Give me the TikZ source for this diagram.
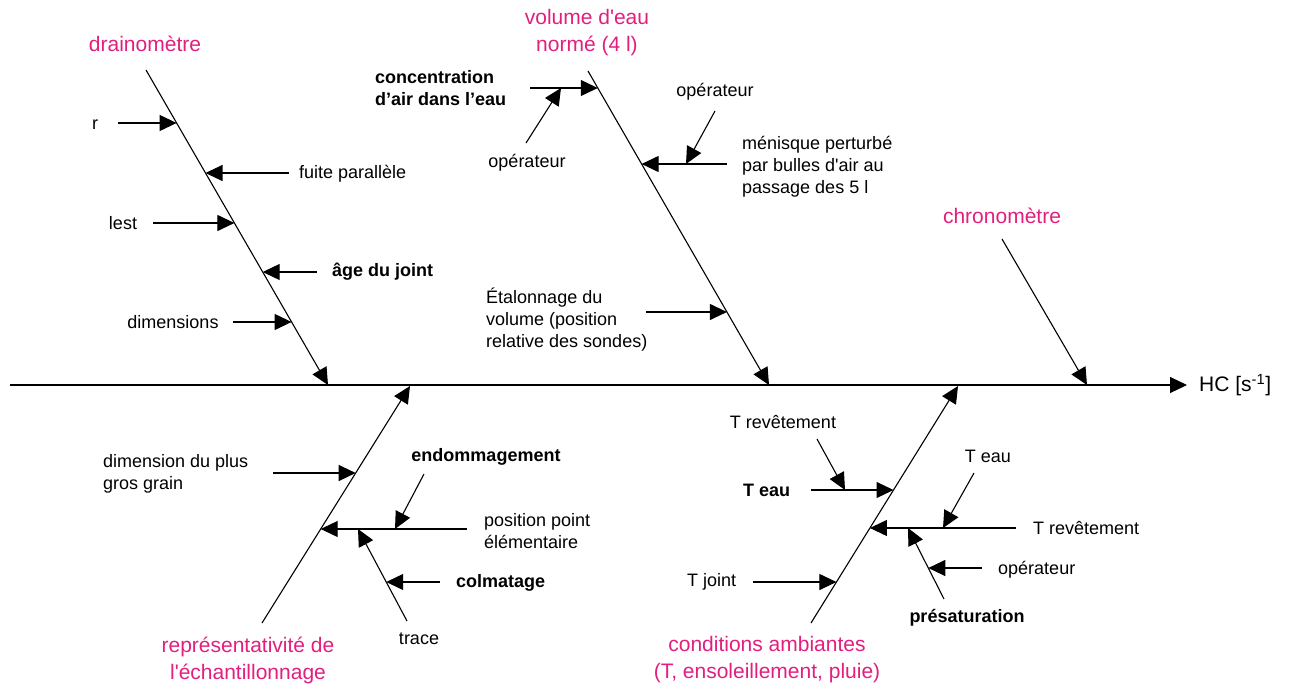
\documentclass[tikz,border=0pt]{standalone}
\usepackage{fontspec}
\setmainfont{Liberation Sans}
\usetikzlibrary{arrows.meta}
\definecolor{pinklab}{RGB}{226,30,126}
\begin{document}
\begin{tikzpicture}[x=1pt,y=-1pt,
  arr/.style={-{Triangle[length=17pt,width=16pt]},line width=1.1pt,draw=black},
  lbl/.style={font=\fontsize{18}{22}\selectfont,inner sep=0pt,align=left},
  blbl/.style={font=\fontsize{18}{22}\selectfont\bfseries,inner sep=0pt,align=left},
  pnk/.style={font=\fontsize{21}{27}\selectfont,text=pinklab,inner sep=0pt,align=center}]
\useasboundingbox (0,0) rectangle (1290,686);
% spine and bones
\coordinate (s0) at (10,385); \coordinate (s1) at (1187,385);
\coordinate (b1s) at (146,70); \coordinate (b1e) at (328,385);
\coordinate (b2s) at (588,71); \coordinate (b2e) at (769,385);
\coordinate (b3s) at (1002,239); \coordinate (b3e) at (1087,385);
\coordinate (b4s) at (262,623); \coordinate (b4e) at (410,386);
\coordinate (b5s) at (811,623); \coordinate (b5e) at (958,386);
\draw[arr] (s0) -- (s1);
\draw[arr] (b1s) -- (b1e);
\draw[arr] (b2s) -- (b2e);
\draw[arr] (b3s) -- (b3e);
\draw[arr] (b4s) -- (b4e);
\draw[arr] (b5s) -- (b5e);
% main labels
\node[pnk] (tdrain) at (145,44) {drainomètre};
\node[pnk] (tvol) at (587,33) {volume d\textquotesingle eau\\normé (4 l)};
\node[pnk] (tchrono) at (1002,216) {chronomètre};
\node[pnk] (trepr) at (248,660) {représentativité de\\l\textquotesingle échantillonnage};
\node[pnk] (tcond) at (767,660) {conditions ambiantes\\(T, ensoleillement, pluie)};
\node[font=\fontsize{21}{27}\selectfont,inner sep=0pt,anchor=west] (thc) at (1199,385) {HC [s\textsuperscript{-1}]};
% drainometre causes
\node[lbl] (tr) at (95,125) {r};
\coordinate (ar0) at (118,123); \coordinate (ar1) at (176.6,123);
\draw[arr] (ar0) -- (ar1);
\node[lbl,anchor=west] (tfuite) at (299,174) {fuite parallèle};
\coordinate (af0) at (289,173); \coordinate (af1) at (205.5,173);
\draw[arr] (af0) -- (af1);
\node[lbl] (tlest) at (123,223) {lest};
\coordinate (al0) at (153,223); \coordinate (al1) at (234.4,223);
\draw[arr] (al0) -- (al1);
\node[blbl,anchor=west] (tage) at (332,272) {âge du joint};
\coordinate (ag0) at (317,272); \coordinate (ag1) at (262.7,272);
\draw[arr] (ag0) -- (ag1);
\node[lbl] (tdim) at (173,322) {dimensions};
\coordinate (ad0) at (233,322); \coordinate (ad1) at (291.6,322);
\draw[arr] (ad0) -- (ad1);
% volume causes
\node[blbl,anchor=west] (tconc) at (375,88) {concentration\\d’air dans l’eau};
\coordinate (ac0) at (530,88); \coordinate (ac1) at (597.8,88);
\draw[arr] (ac0) -- (ac1);
\node[lbl] (top1) at (527,163) {opérateur};
\coordinate (ao0) at (526,143); \coordinate (ao1) at (561,88);
\draw[arr] (ao0) -- (ao1);
\node[lbl,anchor=west] (tmen) at (742,167) {ménisque perturbé\\par bulles d\textquotesingle air au\\passage des 5 l};
\coordinate (am0) at (727,164); \coordinate (am1) at (641.6,164);
\draw[arr] (am0) -- (am1);
\node[lbl] (top2) at (715,92) {opérateur};
\coordinate (ap0) at (715,111); \coordinate (ap1) at (686,164);
\draw[arr] (ap0) -- (ap1);
\node[lbl,anchor=west] (tetal) at (486,320) {Étalonnage du\\volume (position\\relative des sondes)};
\coordinate (ae0) at (646,312); \coordinate (ae1) at (726.9,312);
\draw[arr] (ae0) -- (ae1);
% representativite causes
\node[lbl,anchor=west] (tgrain) at (103,474) {dimension du plus\\gros grain};
\coordinate (agr0) at (273,473); \coordinate (agr1) at (355.7,473);
\draw[arr] (agr0) -- (agr1);
\node[lbl,anchor=west] (tpos) at (484,531) {position point\\élémentaire};
\coordinate (apo0) at (467,529); \coordinate (apo1) at (320.7,529);
\draw[arr] (apo0) -- (apo1);
\node[blbl] (tendo) at (486,457) {endommagement};
\coordinate (aen0) at (424,474); \coordinate (aen1) at (395,529);
\draw[arr] (aen0) -- (aen1);
\node[lbl] (ttrace) at (419,639) {trace};
\coordinate (atr0) at (407,621); \coordinate (atr1) at (358,529);
\draw[arr] (atr0) -- (atr1);
\node[blbl,anchor=west] (tcolm) at (456,583) {colmatage};
\coordinate (aco0) at (440,582); \coordinate (aco1) at (386.2,582);
\draw[arr] (aco0) -- (aco1);
% conditions causes
\node[blbl,anchor=west] (teau1) at (743,490) {T eau};
\coordinate (ate0) at (811,490); \coordinate (ate1) at (893.5,490);
\draw[arr] (ate0) -- (ate1);
\node[lbl] (trev1) at (783,422) {T revêtement};
\coordinate (arv0) at (817,439); \coordinate (arv1) at (845,490);
\draw[arr] (arv0) -- (arv1);
\node[lbl,anchor=west] (trev2) at (1033,528) {T revêtement};
\coordinate (arw0) at (1016,528); \coordinate (arw1) at (869.9,528);
\draw[arr] (arw0) -- (arw1);
\node[lbl] (teau2) at (988,456) {T eau};
\coordinate (atf0) at (974,473); \coordinate (atf1) at (943,528);
\draw[arr] (atf0) -- (atf1);
\node[blbl] (tpres) at (967,618) {présaturation};
\coordinate (aps0) at (944,599); \coordinate (aps1) at (908,528);
\draw[arr] (aps0) -- (aps1);
\node[lbl,anchor=west] (top3) at (998,570) {opérateur};
\coordinate (aop0) at (982,568); \coordinate (aop1) at (928.3,568);
\draw[arr] (aop0) -- (aop1);
\node[lbl,anchor=west] (tjoint) at (687,582) {T joint};
\coordinate (atj0) at (753,582); \coordinate (atj1) at (836.4,582);
\draw[arr] (atj0) -- (atj1);
\end{tikzpicture}
\end{document}
